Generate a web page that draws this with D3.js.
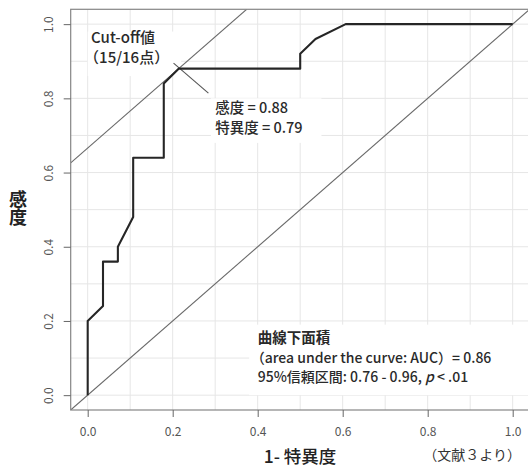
<!DOCTYPE html>
<html><head><meta charset="utf-8">
<script src="https://cdn.jsdelivr.net/npm/d3@7"></script>
<style>
html,body{margin:0;padding:0;background:#fff;}
svg{display:block;}
text{font-family:"Noto Sans CJK JP","Noto Sans",sans-serif;}
</style></head>
<body><svg id="c" width="528" height="469"></svg>
<script>
// ROC curve data (1 - specificity, sensitivity)
const fpr = [0, 0, 0.036, 0.036, 0.071, 0.071, 0.107, 0.107, 0.179, 0.179, 0.214, 0.5, 0.5, 0.536, 0.607, 1.0];
const tpr = [0, 0.2, 0.24, 0.36, 0.36, 0.40, 0.48, 0.64, 0.64, 0.84, 0.88, 0.88, 0.92, 0.96, 1.0, 1.0];
const tickValues = [0, 0.2, 0.4, 0.6, 0.8, 1.0];
const gridValues = [0, 0.1, 0.2, 0.3, 0.4, 0.5, 0.6, 0.7, 0.8, 0.9, 1.0];
const cutoff = {x: 0.214, y: 0.88};
const cutoffLabel = ["Cut-off値", "（15/16点）"];
const pointLabel = ["感度 = 0.88", "特異度 = 0.79"];
const aucLabel = ["曲線下面積", "（area under the curve: AUC）= 0.86"];
const ciLabel = ["95%信頼区間: 0.76 - 0.96, ", "p", " < .01"];
const xTitle = "1- 特異度";
const yTitle = "感度";
const source = "（文献３より）";

const svg = d3.select("#c");
const x = d3.scaleLinear().domain([-0.04, 1.04]).range([70.7, 529.7]);
const y = d3.scaleLinear().domain([-0.04, 1.04]).range([410, 9.3]);

svg.append("defs").append("clipPath").attr("id", "pc")
  .append("rect").attr("x", x(-0.04)).attr("y", y(1.04))
  .attr("width", x(1.04) - x(-0.04)).attr("height", y(-0.04) - y(1.04));

const plot = svg.append("g").attr("clip-path", "url(#pc)");

// grid
plot.append("g").selectAll("line").data(gridValues).join("line")
  .attr("x1", d => x(d)).attr("x2", d => x(d)).attr("y1", y(1.04)).attr("y2", y(-0.04))
  .attr("stroke", "#e6e6e6").attr("stroke-width", 1);
plot.append("g").selectAll("line").data(gridValues).join("line")
  .attr("x1", x(-0.04)).attr("x2", x(1.04)).attr("y1", d => y(d)).attr("y2", d => y(d))
  .attr("stroke", "#e6e6e6").attr("stroke-width", 1);

// white label backgrounds
const boxes = [
  [0.0, 0.98, 0.22, 0.86],
  [0.29, 0.80, 0.55, 0.68],
  [0.38, 0.19, 1.04, 0.0]
];
plot.append("g").selectAll("rect").data(boxes).join("rect")
  .attr("x", d => x(d[0])).attr("y", d => y(d[1]))
  .attr("width", d => x(d[2]) - x(d[0])).attr("height", d => y(d[3]) - y(d[1]))
  .attr("fill", "#fff");

// reference diagonal y = x
plot.append("line").attr("x1", x(-0.04)).attr("y1", y(-0.04)).attr("x2", x(1.04)).attr("y2", y(1.04))
  .attr("stroke", "#6a6a6a").attr("stroke-width", 1.1);
// tangent line through cut-off point (slope 1)
const c0 = cutoff.y - cutoff.x;
plot.append("line").attr("x1", x(-0.04)).attr("y1", y(-0.04 + c0)).attr("x2", x(1.04 - c0)).attr("y2", y(1.04))
  .attr("stroke", "#6a6a6a").attr("stroke-width", 1.1);
// perpendicular pointer at cut-off
plot.append("line").attr("x1", x(cutoff.x - 0.012)).attr("y1", y(cutoff.y + 0.015))
  .attr("x2", x(cutoff.x + 0.07)).attr("y2", y(cutoff.y - 0.066))
  .attr("stroke", "#555").attr("stroke-width", 1.1);

// ROC curve
const pts = fpr.map((f, i) => [f, tpr[i]]);
plot.append("path").datum(pts)
  .attr("d", d3.line().x(d => x(d[0])).y(d => y(d[1])))
  .attr("fill", "none").attr("stroke", "#262626").attr("stroke-width", 2.1).attr("stroke-linejoin", "round");

// frame
svg.append("rect").attr("x", x(-0.04)).attr("y", y(1.04))
  .attr("width", x(1.04) - x(-0.04)).attr("height", y(-0.04) - y(1.04))
  .attr("fill", "none").attr("stroke", "#858585").attr("stroke-width", 1.2);

// axes
const xa = svg.append("g").attr("transform", `translate(0,${y(-0.04)})`)
  .call(d3.axisBottom(x).tickValues(tickValues).tickFormat(d3.format(".1f")).tickSize(7).tickPadding(10));
xa.select(".domain").remove();
xa.selectAll("line").attr("stroke", "#666");
xa.selectAll("text").attr("font-size", 12).attr("fill", "#555").attr("font-family", "Liberation Sans, Arial, sans-serif");

const ya = svg.append("g").attr("transform", `translate(${x(-0.04)},0)`)
  .call(d3.axisLeft(y).tickValues(tickValues).tickFormat(d3.format(".1f")).tickSize(7));
ya.select(".domain").remove();
ya.selectAll("line").attr("stroke", "#666");
ya.selectAll("text").attr("font-size", 12).attr("fill", "#555").attr("font-family", "Liberation Sans, Arial, sans-serif")
  .attr("text-anchor", "middle").attr("dy", null).attr("dominant-baseline", "central")
  .attr("transform", "translate(-23,0) rotate(-90)").attr("x", 0);

// annotations
const txt = (lines, x0, y0, lh, size, weight, dxs) => {
  const t = svg.append("text").attr("font-size", size).attr("fill", "#2a2a2a").attr("font-weight", weight || 500);
  lines.forEach((l, i) => t.append("tspan").attr("x", x0 + ((dxs && dxs[i]) || 0)).attr("y", y0 + i * lh).text(l));
  return t;
};
txt(cutoffLabel, x(0.008), y(0.95), 20, 15, 500, [0, -7]);
txt(pointLabel, x(0.30), y(0.76), 19.5, 14.5, 500);

// AUC block (one text element, three lines)
const ax = x(0.40);
const ay = y(0.14);
const auc = svg.append("text").attr("font-size", 14).attr("font-weight", 500).attr("fill", "#2a2a2a");
auc.append("tspan").attr("x", ax).attr("y", ay).attr("font-size", 14.5).attr("font-weight", "bold").text(aucLabel[0]);
auc.append("tspan").attr("x", ax - 7).attr("y", ay + 19.5).text(aucLabel[1]);
auc.append("tspan").attr("x", ax).attr("y", ay + 39).text(ciLabel[0]);
auc.append("tspan").attr("font-style", "italic").text(ciLabel[1]);
auc.append("tspan").text(ciLabel[2]);

// axis titles
svg.append("text").attr("x", 300).attr("y", 463).attr("text-anchor", "middle")
  .attr("font-size", 17.5).attr("font-weight", 500).attr("fill", "#222").text(xTitle);
svg.append("text").attr("x", 18).attr("y", 190).attr("writing-mode", "vertical-rl")
  .attr("font-size", 18).attr("font-weight", "bold").attr("fill", "#222").text(yTitle);
svg.append("text").attr("x", 521).attr("y", 460).attr("text-anchor", "end")
  .attr("font-size", 14).attr("fill", "#333").attr("font-family", "DejaVu Serif, serif").text(source);
</script></body></html>
